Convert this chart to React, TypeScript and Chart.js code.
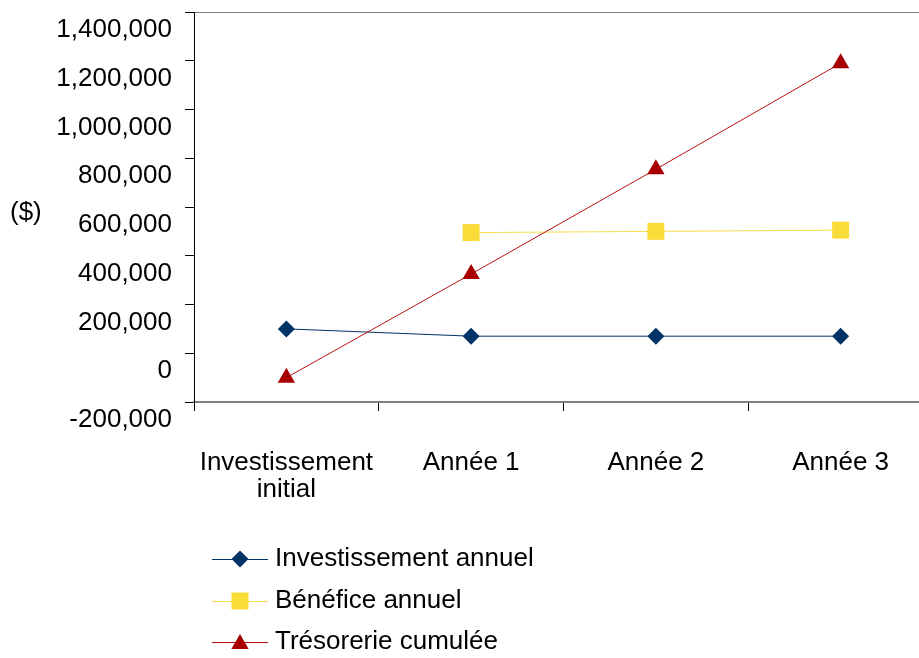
import React, { useEffect, useRef } from 'react';
import { Chart, registerables } from 'chart.js';

Chart.register(...registerables);

const categories: (string | string[])[] = [['Investissement', 'initial'], 'Année 1', 'Année 2', 'Année 3'];
const seriesLabels = ['Investissement annuel', 'Bénéfice annuel', 'Trésorerie cumulée'];
const investissementAnnuel = [100000, 70000, 70000, 70000];
const beneficeAnnuel = [null, 495000, 500000, 505000];
const tresorerieCumulee = [-100000, 325000, 755000, 1190000];
const yMin = -200000;
const yMax = 1400000;
const yStep = 200000;
const yUnitLabel = '($)';

const FONT = '"Liberation Sans", Arial, Helvetica, sans-serif';
const BLUE = '#003366';
const YELLOW = '#F9DC38';
const YELLOW_LINE = '#F7DC50';
const RED = '#A80000';
const RED_LINE = '#B81010';

const legendRowsY = [559, 601, 642];

function drawMarker(ctx: CanvasRenderingContext2D, style: string, cx: number, cy: number, r: number) {
  ctx.beginPath();
  if (style === 'rectRot') {
    ctx.moveTo(cx, cy - r);
    ctx.lineTo(cx + r, cy);
    ctx.lineTo(cx, cy + r);
    ctx.lineTo(cx - r, cy);
  } else if (style === 'rect') {
    const s = Math.SQRT1_2 * r;
    ctx.rect(cx - s, cy - s, 2 * s, 2 * s);
  } else {
    ctx.moveTo(cx, cy - r);
    ctx.lineTo(cx + 0.866 * r, cy + 0.5 * r);
    ctx.lineTo(cx - 0.866 * r, cy + 0.5 * r);
  }
  ctx.closePath();
  ctx.fill();
}

const overlayPlugin = {
  id: 'overlayPlugin',
  afterDraw(chart: any) {
    const ctx: CanvasRenderingContext2D = chart.ctx;
    ctx.save();
    ctx.font = `26px ${FONT}`;
    ctx.fillStyle = '#000';
    ctx.textAlign = 'left';
    ctx.textBaseline = 'alphabetic';
    ctx.fillText(yUnitLabel, 10, 220);

    chart.data.datasets.forEach((ds: any, i: number) => {
      const y = legendRowsY[i];
      ctx.strokeStyle = ds.borderColor;
      ctx.lineWidth = 1;
      ctx.beginPath();
      ctx.moveTo(212, y + 0.5);
      ctx.lineTo(268, y + 0.5);
      ctx.stroke();
      ctx.fillStyle = ds.pointBackgroundColor;
      drawMarker(ctx, ds.pointStyle, 240, y + (ds.pointStyle === 'triangle' ? 2 : 0), ds.pointRadius);
      ctx.fillStyle = '#000';
      ctx.textBaseline = 'middle';
      ctx.font = `26px ${FONT}`;
      ctx.fillText(ds.label, 275, y);
    });
    ctx.restore();
  },
};

export default function App() {
  const canvasRef = useRef<HTMLCanvasElement | null>(null);

  useEffect(() => {
    if (!canvasRef.current) return;
    const chart = new Chart(canvasRef.current, {
      type: 'line',
      data: {
        labels: categories,
        datasets: [
          {
            label: seriesLabels[0],
            data: investissementAnnuel,
            borderColor: BLUE,
            backgroundColor: BLUE,
            pointBackgroundColor: BLUE,
            pointBorderColor: BLUE,
            pointBorderWidth: 0,
            pointStyle: 'rectRot',
            pointRadius: 8.5,
            borderWidth: 1,
            tension: 0,
            order: 3,
          },
          {
            label: seriesLabels[1],
            data: beneficeAnnuel,
            borderColor: YELLOW_LINE,
            backgroundColor: YELLOW,
            pointBackgroundColor: YELLOW,
            pointBorderColor: YELLOW,
            pointBorderWidth: 0,
            pointStyle: 'rect',
            pointRadius: 12,
            borderWidth: 1,
            tension: 0,
            order: 2,
          },
          {
            label: seriesLabels[2],
            data: tresorerieCumulee,
            borderColor: RED_LINE,
            backgroundColor: RED,
            pointBackgroundColor: RED,
            pointBorderColor: RED,
            pointBorderWidth: 0,
            pointStyle: 'triangle',
            pointRadius: 10,
            borderWidth: 1,
            tension: 0,
            order: 1,
          },
        ] as any,
      },
      options: {
        animation: false,
        responsive: false,
        maintainAspectRatio: false,
        layout: { padding: { left: 0, top: 10, right: 3, bottom: 0 } },
        plugins: {
          legend: { display: false },
          tooltip: { enabled: false },
          title: { display: false },
        },
        scales: {
          x: {
            type: 'category',
            offset: true,
            grid: {
              offset: true,
              drawOnChartArea: false,
              drawTicks: true,
              tickLength: 9,
              tickColor: '#000',
              color: '#000',
            },
            border: { display: true, color: '#808080', width: 2 },
            ticks: {
              color: '#000',
              font: { family: FONT, size: 26, lineHeight: 1.05 },
              padding: 38,
              maxRotation: 0,
              autoSkip: false,
            },
            afterFit: (scale: any) => {
              scale.height = 256;
              scale.paddingLeft = 0;
              scale.paddingRight = 0;
            },
          },
          y: {
            type: 'linear',
            min: yMin,
            max: yMax,
            grid: {
              drawOnChartArea: true,
              drawTicks: true,
              tickLength: 9,
              tickColor: '#000',
              color: (c: any) => (c.tick && c.tick.value === yMax ? '#808080' : 'rgba(0,0,0,0)'),
            },
            border: { display: true, color: '#000', width: 1 },
            ticks: {
              stepSize: yStep,
              color: '#000',
              font: { family: FONT, size: 26 },
              padding: 13,
              labelOffset: 18,
              callback: (v: any) => Number(v).toLocaleString('en-US'),
            },
            afterFit: (scale: any) => {
              scale.width = 194;
              scale.paddingTop = 0;
              scale.paddingBottom = 0;
            },
          },
        },
      } as any,
      plugins: [overlayPlugin],
    });
    return () => chart.destroy();
  }, []);

  return (
    <div style={{ position: 'fixed', left: 0, top: 0, width: 919, height: 658, overflow: 'hidden', background: '#fff' }}>
      <canvas ref={canvasRef} width={945} height={658} style={{ width: 945, height: 658, display: 'block' }} />
    </div>
  );
}
